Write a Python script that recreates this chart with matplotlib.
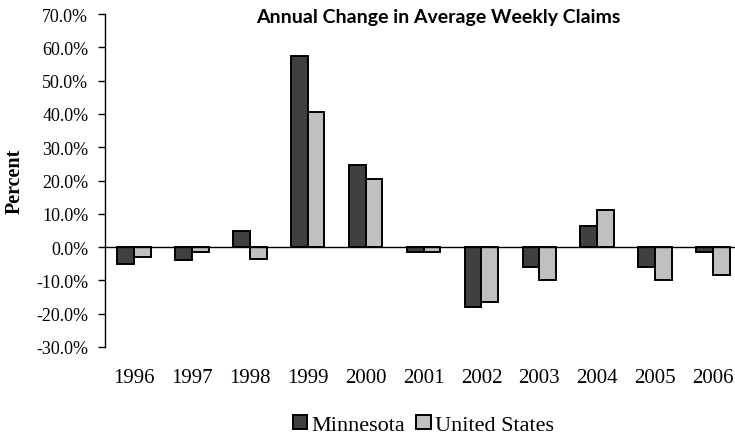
import numpy as np
import matplotlib
matplotlib.use("Agg")
import matplotlib.pyplot as plt
from matplotlib.ticker import FuncFormatter

years = ["1996", "1997", "1998", "1999", "2000", "2001",
         "2002", "2003", "2004", "2005", "2006"]
minnesota = [-5.0, -4.0, 4.7, 57.4, 24.7, -1.6, -18.1, -6.1, 6.4, -6.1, -1.5]
united_states = [-3.0, -1.6, -3.6, 40.7, 20.4, -1.5, -16.6, -9.9, 11.0, -9.9, -8.4]

serif = "Liberation Serif"

fig = plt.figure(figsize=(7.35, 4.39), dpi=100)
ax = fig.add_axes([105 / 735, 1 - 348 / 439, 637 / 735, 333 / 439])

x = np.arange(len(years))
w = 0.29
ax.bar(x - w / 2, minnesota, w, color="#404040", edgecolor="black",
       linewidth=1.4, label="Minnesota")
ax.bar(x + w / 2, united_states, w, color="#c0c0c0", edgecolor="black",
       linewidth=1.4, label="United States")
ax.axhline(0, color="black", linewidth=1.0)

ax.set_xlim(-0.5, len(years) - 0.5)
ax.set_ylim(-30, 70)
ax.set_yticks(np.arange(-30, 71, 10))
ax.yaxis.set_major_formatter(FuncFormatter(lambda v, p: f"{v:.1f}%"))
ax.set_xticks(x)
ax.set_xticklabels(years)

for s in ["top", "right", "bottom"]:
    ax.spines[s].set_visible(False)
ax.spines["left"].set_linewidth(1.0)
ax.tick_params(axis="y", length=5, width=1.0, pad=7, labelsize=13)
ax.tick_params(axis="x", length=0, pad=15, labelsize=15)
for lab in ax.get_xticklabels() + ax.get_yticklabels():
    lab.set_fontfamily(serif)

ax.set_ylabel("Percent", fontfamily=serif, fontweight="bold", fontsize=14.5,
              labelpad=8)

fig.text(438 / 735, 1 - 17 / 439, "Annual Change in Average Weekly Claims",
         ha="center", va="center", fontfamily="Lato", fontweight="bold",
         fontsize=14)

leg = ax.legend(loc="center", bbox_to_anchor=(0.5, -0.235), ncol=2,
                frameon=False, prop={"family": serif, "size": 16},
                handlelength=0.65, handleheight=0.55, handletextpad=0.2,
                columnspacing=0.5)

fig.savefig("out.png", dpi=100)
